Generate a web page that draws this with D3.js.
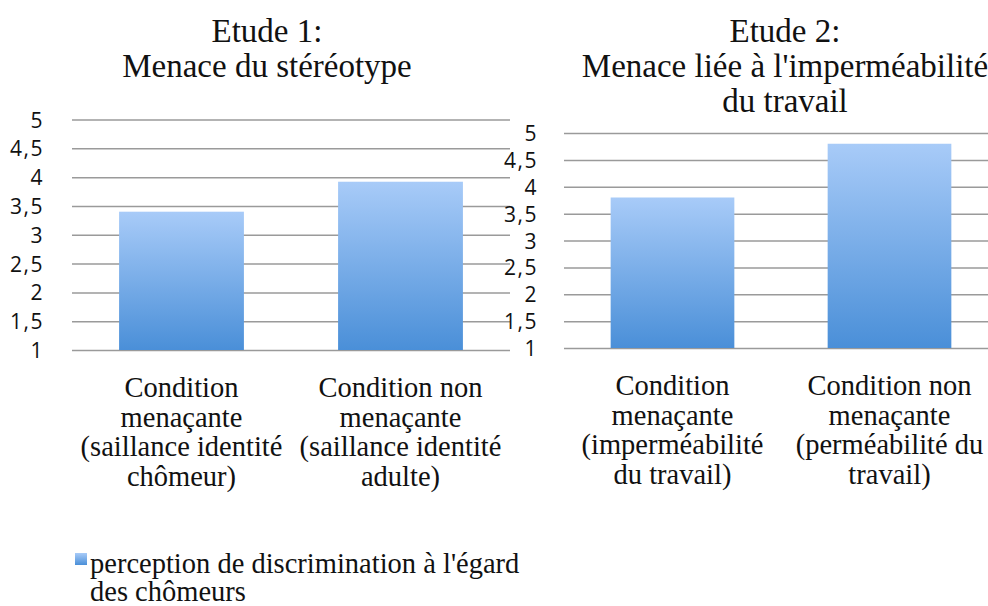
<!DOCTYPE html>
<html>
<head>
<meta charset="utf-8">
<script src="https://cdn.jsdelivr.net/npm/d3@7"></script>
<style>
  body { margin: 0; background: #fff; }
  svg { display: block; }
  .serif { font-family: 'Liberation Serif', 'Times New Roman', Times, 'DejaVu Serif', serif; }
  .sans { font-family: 'Open Sans', 'DejaVu Sans', sans-serif; }
</style>
</head>
<body>
<div class="canva"></div>
<script>
// data
const categories1 = [
  ['Condition', 'menaçante', '(saillance identité', 'chômeur)'],
  ['Condition non', 'menaçante', '(saillance identité', 'adulte)']
];
const values1 = [3.4, 3.92];
const titles1 = ['Etude 1:', 'Menace du stéréotype'];

const categories2 = [
  ['Condition', 'menaçante', '(imperméabilité', 'du travail)'],
  ['Condition non', 'menaçante', '(perméabilité du', 'travail)']
];
const values2 = [3.8, 4.8];
const titles2 = ['Etude 2:', "Menace liée à l'imperméabilité", 'du travail'];

const yTicks = [1, 1.5, 2, 2.5, 3, 3.5, 4, 4.5, 5];
const legendLines = ["perception de discrimination à l'égard", 'des chômeurs'];

const width = 988, height = 606;

const svg = d3.select('.canva').append('svg')
  .attr('width', width)
  .attr('height', height);

const defs = svg.append('defs');
const grad = defs.append('linearGradient')
  .attr('id', 'barGrad')
  .attr('x1', 0).attr('y1', 0).attr('x2', 0).attr('y2', 1);
grad.append('stop').attr('offset', '0%').attr('stop-color', '#a8cbf8');
grad.append('stop').attr('offset', '100%').attr('stop-color', '#4a8fd8');

function drawPanel(opt) {
  const y = d3.scaleLinear().domain([1, 5]).range([opt.bottom, opt.top]);
  const x = d3.scaleBand()
    .domain(d3.range(opt.values.length))
    .range([opt.left, opt.right])
    .paddingInner(0.43)
    .paddingOuter(0.215);

  const g = svg.append('g');

  // gridlines + tick labels
  const yAxis = d3.axisLeft(y)
    .tickValues(yTicks)
    .tickSize(-(opt.right - opt.left))
    .tickFormat(d => String(d).replace('.', ','));

  const ax = g.append('g')
    .attr('transform', `translate(${opt.left},0)`)
    .call(yAxis);
  ax.attr('font-family', null).attr('font-size', null);
  ax.select('.domain').remove();
  ax.selectAll('.tick line')
    .attr('stroke', '#9a9a9a')
    .attr('stroke-width', 1.5);
  ax.selectAll('.tick text')
    .attr('class', 'sans')
    .attr('x', opt.labelX - opt.left)
    .attr('dy', '0.36em')
    .attr('fill', '#111')
    .style('font-size', '21px')
    .style('letter-spacing', '1.5px');

  // bars
  g.selectAll('rect.bar')
    .data(opt.values)
    .enter()
    .append('rect')
    .attr('class', 'bar')
    .attr('x', (d, i) => x(i))
    .attr('y', d => y(d))
    .attr('width', x.bandwidth())
    .attr('height', d => y(1) - y(d))
    .attr('fill', 'url(#barGrad)');

  // category labels
  g.selectAll('text.cat')
    .data(opt.categories)
    .enter()
    .append('text')
    .attr('class', 'serif')
    .attr('text-anchor', 'middle')
    .style('font-size', '28.5px')
    .attr('fill', '#111')
    .each(function(lines, i) {
      d3.select(this).selectAll('tspan')
        .data(lines)
        .enter()
        .append('tspan')
        .attr('x', x(i) + x.bandwidth() / 2)
        .attr('y', (l, j) => opt.catY + j * 29.5)
        .text(l => l);
    });

  // title
  g.append('text')
    .attr('class', 'serif')
    .attr('text-anchor', 'middle')
    .style('font-size', '33px')
    .attr('fill', '#111')
    .selectAll('tspan')
    .data(opt.titles)
    .enter()
    .append('tspan')
    .attr('x', opt.titleX)
    .attr('y', (l, j) => 42 + j * 35)
    .text(l => l);
}

drawPanel({
  values: values1, categories: categories1, titles: titles1,
  left: 72, right: 510, top: 119.5, bottom: 350,
  labelX: 44, catY: 397, titleX: 267
});

drawPanel({
  values: values2, categories: categories2, titles: titles2,
  left: 564, right: 998, top: 133, bottom: 348,
  labelX: 538, catY: 395, titleX: 785
});

// legend
svg.append('rect')
  .attr('x', 75).attr('y', 553)
  .attr('width', 12).attr('height', 12)
  .attr('fill', 'url(#barGrad)');

svg.append('text')
  .attr('class', 'serif')
  .style('font-size', '28.5px')
  .attr('fill', '#111')
  .selectAll('tspan')
  .data(legendLines)
  .enter()
  .append('tspan')
  .attr('x', 90)
  .attr('y', (l, j) => 573 + j * 28)
  .text(l => l);
</script>
</body>
</html>
